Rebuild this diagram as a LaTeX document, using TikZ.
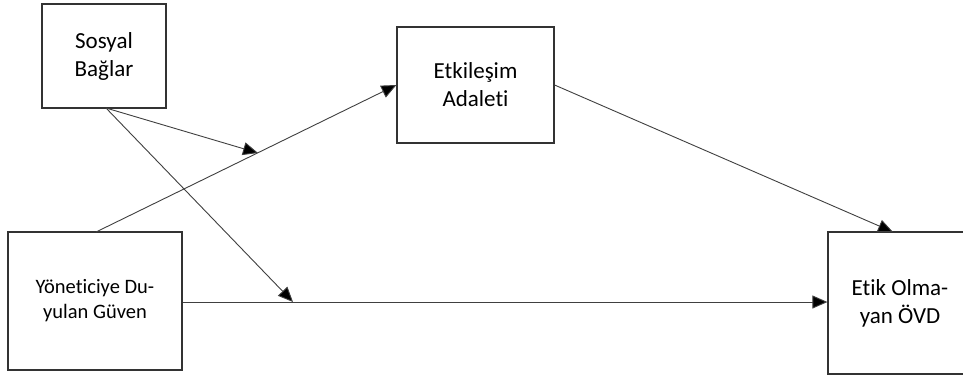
\documentclass[tikz,border=0pt]{standalone}
\usepackage{fontspec}
\setmainfont{Carlito}[Ligatures={NoCommon,NoRare,NoContextual}]
\usetikzlibrary{arrows.meta}
\begin{document}
\begin{tikzpicture}[x=1pt,y=-1pt,
  box/.style={draw=black!80,line width=1.2pt,rectangle,align=center,inner sep=0pt,
    font=\fontsize{23}{28}\selectfont},
  link/.style={draw=black!75,line width=0.9pt,-{Triangle[length=15pt,width=13pt,fill=black]}}]
\useasboundingbox (0,0) rectangle (963,376);
\fill[white] (0,0) rectangle (963,376);
\node[box,minimum width=124pt,minimum height=104pt] (sb) at (104,56) {Sosyal\\Bağlar};
\node[box,minimum width=157pt,minimum height=116pt] (ea) at (475.5,85) {Etkileşim\\Adaleti};
\node[box,minimum width=174pt,minimum height=138pt,font=\fontsize{20.5}{25}\selectfont] (yg) at (95,301) {Yöneticiye Du-\\yulan Güven};
\node[box,minimum width=144pt,minimum height=142pt] (eo) at (900,303) {Etik Olma-\\yan ÖVD};
\coordinate (a1) at (96,232);
\coordinate (s1) at (106,108);
\coordinate (m1) at (258,153);
\coordinate (m2) at (293,302);
\coordinate (e2) at (893,232);
\draw[link] (a1) -- (ea.west);
\draw[link] (s1) -- (m1);
\draw[link] (s1) -- (m2);
\draw[link] (yg.east |- m2) -- (eo.west |- m2);
\draw[link] (ea.east) -- (e2);
\end{tikzpicture}
\end{document}
